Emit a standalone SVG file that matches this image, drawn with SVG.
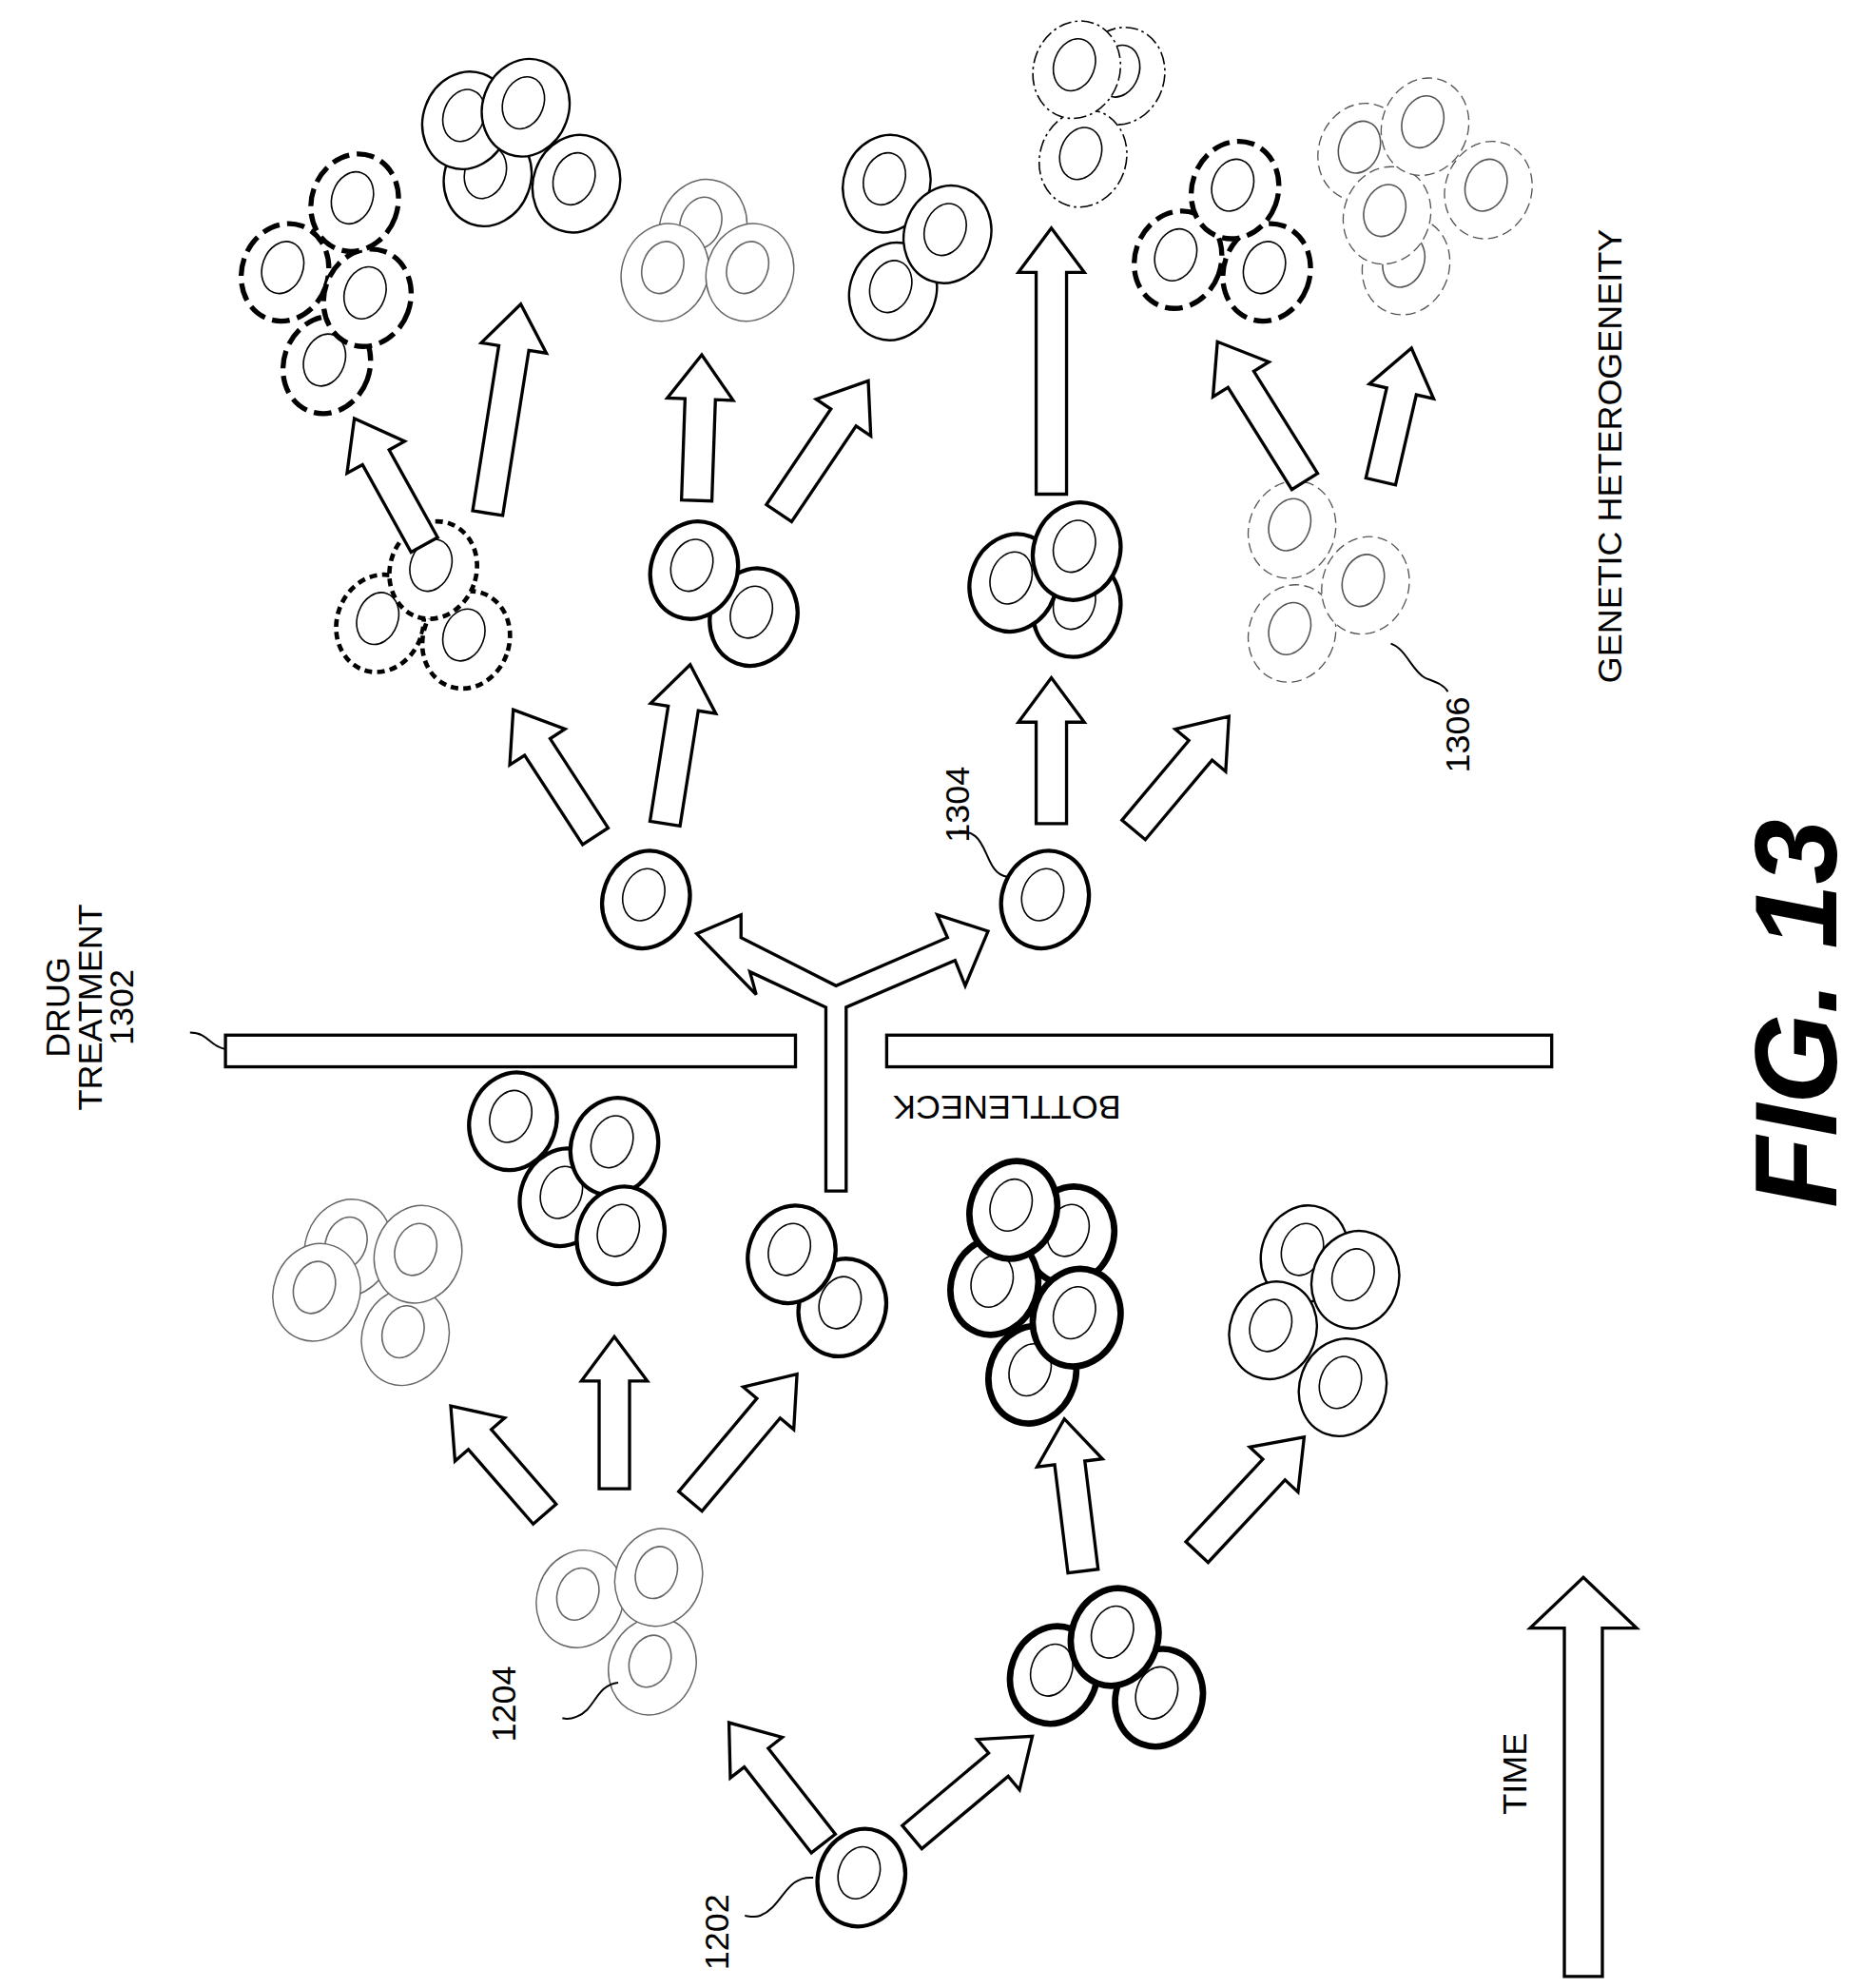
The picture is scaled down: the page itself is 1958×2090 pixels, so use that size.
<svg xmlns="http://www.w3.org/2000/svg" width="1958" height="2090" viewBox="0 0 1958 2090">
<style>
.o{fill:#fff}
.n{fill:none;stroke-width:1.2;stroke-dasharray:none}
.c1{stroke:#666;stroke-width:1.1}
.c2{stroke:#000;stroke-width:1.8}
.c3{stroke:#000;stroke-width:3.2}
.c4{stroke:#000;stroke-width:5}
.d1{stroke:#000;stroke-width:3.5;stroke-dasharray:6 4}
.d2{stroke:#000;stroke-width:4;stroke-dasharray:14 6}
.d3{stroke:#555;stroke-width:1;stroke-dasharray:8 4}
.d4{stroke:#000;stroke-width:1.2;stroke-dasharray:10 3 2 3}
.ar{fill:#fff;stroke:#000;stroke-width:2.5;stroke-linejoin:miter}
.t{font-family:"Liberation Sans Narrow","Liberation Sans",Arial,sans-serif;font-size:27px;fill:#000}
.ld{fill:none;stroke:#000;stroke-width:1.5}
</style>
<defs>
<g id="cell"><ellipse class="o" rx="34" ry="39"/><ellipse class="n" cx="-3" cy="-3" rx="16" ry="21"/></g>
</defs>
<rect width="1958" height="2090" fill="#fff"/>
<g transform="scale(1.332)">
<g id="nodes">
<g id="n1202" class="c3"><use href="#cell" transform="translate(680,1482) rotate(20)"/></g>
<g id="n1204" class="c1"><use href="#cell" transform="translate(458,1262) rotate(20)"/><use href="#cell" transform="translate(515,1315) rotate(20)"/><use href="#cell" transform="translate(520,1245) rotate(20)"/></g>
<g id="nb1" class="c4"><use href="#cell" transform="translate(832,1322) rotate(20)"/><use href="#cell" transform="translate(915,1340) rotate(20)"/><use href="#cell" transform="translate(880,1292) rotate(20)"/></g>
<g id="ng1" class="c1"><use href="#cell" transform="translate(275,985) rotate(20)"/><use href="#cell" transform="translate(320,1055) rotate(20)"/><use href="#cell" transform="translate(250,1020) rotate(20)"/><use href="#cell" transform="translate(330,990) rotate(20)"/></g>
<g id="nm1" class="c3"><use href="#cell" transform="translate(445,945) rotate(20)"/><use href="#cell" transform="translate(405,885) rotate(20)"/><use href="#cell" transform="translate(485,905) rotate(20)"/><use href="#cell" transform="translate(490,975) rotate(20)"/></g>
<g id="np1" class="c3"><use href="#cell" transform="translate(665,1032) rotate(20)"/><use href="#cell" transform="translate(625,990) rotate(20)"/></g>
<g id="nt1" class="c4"><use href="#cell" transform="translate(845,975) rotate(20)"/><use href="#cell" transform="translate(815,1085) rotate(20)"/><use href="#cell" transform="translate(785,1015) rotate(20)"/><use href="#cell" transform="translate(850,1040) rotate(20)"/><use href="#cell" transform="translate(800,955) rotate(20)"/></g>
<g id="ng2" class="c2"><use href="#cell" transform="translate(1030,990) rotate(20)"/><use href="#cell" transform="translate(1070,1010) rotate(20)"/><use href="#cell" transform="translate(1005,1050) rotate(20)"/><use href="#cell" transform="translate(1060,1095) rotate(20)"/></g>
<g id="nL" class="c3"><use href="#cell" transform="translate(510,710) rotate(20)"/></g>
<g id="n1304" class="c3"><use href="#cell" transform="translate(825,710) rotate(20)"/></g>
<g id="ndot" class="d1"><use href="#cell" transform="translate(300,492) rotate(20)"/><use href="#cell" transform="translate(368,505) rotate(20)"/><use href="#cell" transform="translate(342,450) rotate(20)"/></g>
<g id="nbp" class="c3"><use href="#cell" transform="translate(595,487) rotate(20)"/><use href="#cell" transform="translate(548,450) rotate(20)"/></g>
<g id="nb3" class="c3"><use href="#cell" transform="translate(850,480) rotate(20)"/><use href="#cell" transform="translate(800,460) rotate(20)"/><use href="#cell" transform="translate(850,435) rotate(20)"/></g>
<g id="n1306" class="d3"><use href="#cell" transform="translate(1020,500) rotate(20)"/><use href="#cell" transform="translate(1020,418) rotate(20)"/><use href="#cell" transform="translate(1078,462) rotate(20)"/></g>
<g id="nds" class="d2"><use href="#cell" transform="translate(258,288) rotate(20)"/><use href="#cell" transform="translate(225,215) rotate(20)"/><use href="#cell" transform="translate(290,235) rotate(20)"/><use href="#cell" transform="translate(280,160) rotate(20)"/></g>
<g id="nm2" class="c2"><use href="#cell" transform="translate(385,140) rotate(20)"/><use href="#cell" transform="translate(455,145) rotate(20)"/><use href="#cell" transform="translate(368,95) rotate(20)"/><use href="#cell" transform="translate(415,85) rotate(20)"/></g>
<g id="ng3" class="c1"><use href="#cell" transform="translate(555,180) rotate(20)"/><use href="#cell" transform="translate(525,215) rotate(20)"/><use href="#cell" transform="translate(592,215) rotate(20)"/></g>
<g id="nm3" class="c2"><use href="#cell" transform="translate(700,145) rotate(20)"/><use href="#cell" transform="translate(705,230) rotate(20)"/><use href="#cell" transform="translate(748,185) rotate(20)"/></g>
<g id="ndd" class="d4"><use href="#cell" transform="translate(885,60) rotate(20)"/><use href="#cell" transform="translate(855,125) rotate(20)"/><use href="#cell" transform="translate(850,55) rotate(20)"/></g>
<g id="nbd" class="d2"><use href="#cell" transform="translate(1000,215) rotate(20)"/><use href="#cell" transform="translate(930,205) rotate(20)"/><use href="#cell" transform="translate(975,150) rotate(20)"/></g>
<g id="nds2" class="d3"><use href="#cell" transform="translate(1075,120) rotate(20)"/><use href="#cell" transform="translate(1175,150) rotate(20)"/><use href="#cell" transform="translate(1110,210) rotate(20)"/><use href="#cell" transform="translate(1095,170) rotate(20)"/><use href="#cell" transform="translate(1125,100) rotate(20)"/></g>
</g>
<g id="connectors">
<g id="arrows">
<polygon class="ar" points="-12,0 -12,-86 -26,-86 0,-121 26,-86 12,-86 12,0" transform="translate(650,1455) rotate(-38)"/>
<polygon class="ar" points="-12,0 -12,-89 -26,-89 0,-124 26,-89 12,-89 12,0" transform="translate(720,1450) rotate(50)"/>
<polygon class="ar" points="-12,0 -12,-78 -26,-78 0,-113 26,-78 12,-78 12,0" transform="translate(430,1195) rotate(-41)"/>
<polygon class="ar" points="-12,0 -12,-85 -26,-85 0,-120 26,-85 12,-85 12,0" transform="translate(485,1175)"/>
<polygon class="ar" points="-12,0 -12,-96 -26,-96 0,-131 26,-96 12,-96 12,0" transform="translate(545,1185) rotate(40)"/>
<polygon class="ar" points="-12,0 -12,-86 -26,-86 0,-121 26,-86 12,-86 12,0" transform="translate(855,1240) rotate(-7)"/>
<polygon class="ar" points="-12,0 -12,-89 -26,-89 0,-124 26,-89 12,-89 12,0" transform="translate(945,1225) rotate(43)"/>
<polygon class="ar" points="-12,0 -12,-84 -26,-84 0,-119 26,-84 12,-84 12,0" transform="translate(470,660) rotate(-33)"/>
<polygon class="ar" points="-12,0 -12,-92 -26,-92 0,-127 26,-92 12,-92 12,0" transform="translate(525,650) rotate(9)"/>
<polygon class="ar" points="-12,0 -12,-80 -26,-80 0,-115 26,-80 12,-80 12,0" transform="translate(830,650)"/>
<polygon class="ar" points="-12,0 -12,-82 -26,-82 0,-117 26,-82 12,-82 12,0" transform="translate(895,655) rotate(40)"/>
<polygon class="ar" points="-12,0 -12,-79 -26,-79 0,-114 26,-79 12,-79 12,0" transform="translate(335,430) rotate(-29)"/>
<polygon class="ar" points="-12,0 -12,-132 -26,-132 0,-167 26,-132 12,-132 12,0" transform="translate(385,405) rotate(9)"/>
<polygon class="ar" points="-12,0 -12,-80 -26,-80 0,-115 26,-80 12,-80 12,0" transform="translate(550,395) rotate(2)"/>
<polygon class="ar" points="-12,0 -12,-91 -26,-91 0,-126 26,-91 12,-91 12,0" transform="translate(615,405) rotate(34)"/>
<polygon class="ar" points="-12,0 -12,-175 -26,-175 0,-210 26,-175 12,-175 12,0" transform="translate(830,390)"/>
<polygon class="ar" points="-12,0 -12,-95 -26,-95 0,-130 26,-95 12,-95 12,0" transform="translate(1030,380) rotate(-32)"/>
<polygon class="ar" points="-12,0 -12,-73 -26,-73 0,-108 26,-73 12,-73 12,0" transform="translate(1090,380) rotate(13)"/>
<polygon id="time" class="ar" points="1235,1560 1235,1285 1208,1285 1250,1245 1292,1285 1265,1285 1265,1560"/>
</g>
<g id="bottleneck">
<rect class="ar" x="178" y="817" width="450" height="25"/>
<rect class="ar" x="700" y="817" width="525" height="25"/>
<polygon class="ar" points="652,940 652,795 592,767 597,785 550,737 585,722 585,740 660,778 748,740 740,722 780,735 762,778 754,758 668,795 668,940"/>
</g>
<g id="leaders">
<path class="ld" d="M642,1482 C620,1480 618,1505 600,1512 C595,1514 590,1512 588,1512"/>
<path class="ld" d="M488,1328 C470,1330 470,1350 455,1355 C450,1357 447,1357 444,1356"/>
<path class="ld" d="M795,692 C780,690 780,668 770,660 C765,656 760,656 757,656"/>
<path class="ld" d="M1098,508 C1110,512 1115,530 1125,535 C1132,538 1140,540 1143,546"/>
<path class="ld" d="M178,828 C165,826 165,815 150,815"/>
</g>
</g>
<g id="labels">
<text class="t" transform="translate(575,1555) rotate(-90)">1202</text>
<text class="t" transform="translate(407,1375) rotate(-90)">1204</text>
<text class="t" transform="translate(765,665) rotate(-90)">1304</text>
<text class="t" transform="translate(1160,610) rotate(-90)">1306</text>
<text class="t" text-anchor="middle" transform="translate(55,795) rotate(-90)">DRUG</text>
<text class="t" text-anchor="middle" transform="translate(80,795) rotate(-90)">TREATMENT</text>
<text class="t" text-anchor="middle" transform="translate(105,795) rotate(-90)">1302</text>
<text class="t" text-anchor="middle" transform="translate(795,865) rotate(180)">BOTTLENECK</text>
<text class="t" text-anchor="middle" transform="translate(1280,360) rotate(-90)">GENETIC HETEROGENEITY</text>
<text class="t" text-anchor="middle" transform="translate(1205,1400) rotate(-90)">TIME</text>
<text text-anchor="middle" font-family="Liberation Sans,Arial,sans-serif" font-weight="bold" font-style="italic" font-size="92" transform="translate(1450,800) rotate(-90)">FIG. 13</text>
</g>
</g>
</svg>
